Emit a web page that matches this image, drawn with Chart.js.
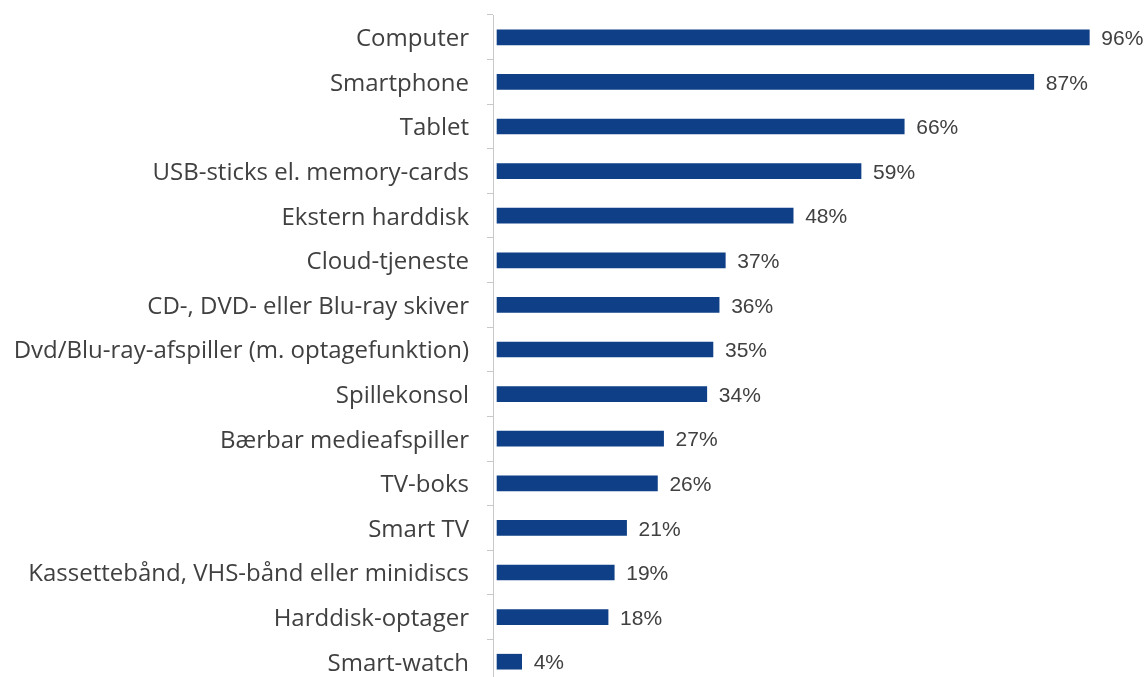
<!DOCTYPE html>
<html>
<head>
<meta charset="utf-8">
<script src="https://cdn.jsdelivr.net/npm/chart.js@4"></script>
<style>
  html, body { margin: 0; padding: 0; background: #fff; overflow: hidden; }
  #wrap { width: 1148px; height: 700px; }
</style>
</head>
<body>
<div id="wrap"><canvas id="myChart" width="1148" height="700"></canvas></div>
<script>
const categories = [
    'Computer',
    'Smartphone',
    'Tablet',
    'USB-sticks el. memory-cards',
    'Ekstern harddisk',
    'Cloud-tjeneste',
    'CD-, DVD- eller Blu-ray skiver',
    'Dvd/Blu-ray-afspiller (m. optagefunktion)',
    'Spillekonsol',
    'Bærbar medieafspiller',
    'TV-boks',
    'Smart TV',
    'Kassettebånd, VHS-bånd eller minidiscs',
    'Harddisk-optager',
    'Smart-watch'
];
const shares = [96, 87, 66, 59, 48, 37, 36, 35, 34, 27, 26, 21, 19, 18, 4];

const barBlue = '#0e3f87';
const textGrey = '#404040';

// draws the "96%" style labels right of each bar
const valueLabels = {
    id: 'valueLabels',
    afterDatasetsDraw(chart) {
        const ctx = chart.ctx;
        const meta = chart.getDatasetMeta(0);
        ctx.save();
        ctx.font = '21px "Liberation Sans", Arial, sans-serif';
        ctx.fillStyle = textGrey;
        ctx.textBaseline = 'middle';
        ctx.textAlign = 'left';
        meta.data.forEach((bar, i) => {
            ctx.fillText(shares[i] + '%', bar.x + 12, bar.y + 2);
        });
        ctx.restore();
    }
};

const ctx = document.getElementById('myChart').getContext('2d');

new Chart(ctx, {
    type: 'bar',
    data: {
        labels: categories,
        datasets: [{
            data: shares,
            backgroundColor: barBlue,
            barThickness: 15,
            borderWidth: 0
        }]
    },
    options: {
        indexAxis: 'y',
        animation: false,
        responsive: false,
        layout: {
            padding: { top: 15, right: 34, bottom: 16, left: 0 }
        },
        scales: {
            x: {
                display: false,
                min: -0.65,
                max: 100
            },
            y: {
                afterFit(scale) {
                    scale.width = 493;
                    // no extra room for half label heights
                    scale.paddingTop = 0;
                    scale.paddingBottom = 0;
                },
                border: { display: true, color: '#c8c8c8', width: 1 },
                grid: {
                    drawOnChartArea: false,
                    drawTicks: true,
                    tickLength: 6,
                    color: '#c8c8c8',
                    offset: true
                },
                ticks: {
                    padding: 18,
                    labelOffset: 2,
                    color: textGrey,
                    font: { family: '"Open Sans", sans-serif', size: 24 },
                    autoSkip: false
                }
            }
        },
        plugins: {
            legend: { display: false },
            tooltip: { enabled: false }
        }
    },
    plugins: [valueLabels]
});
</script>
</body>
</html>
